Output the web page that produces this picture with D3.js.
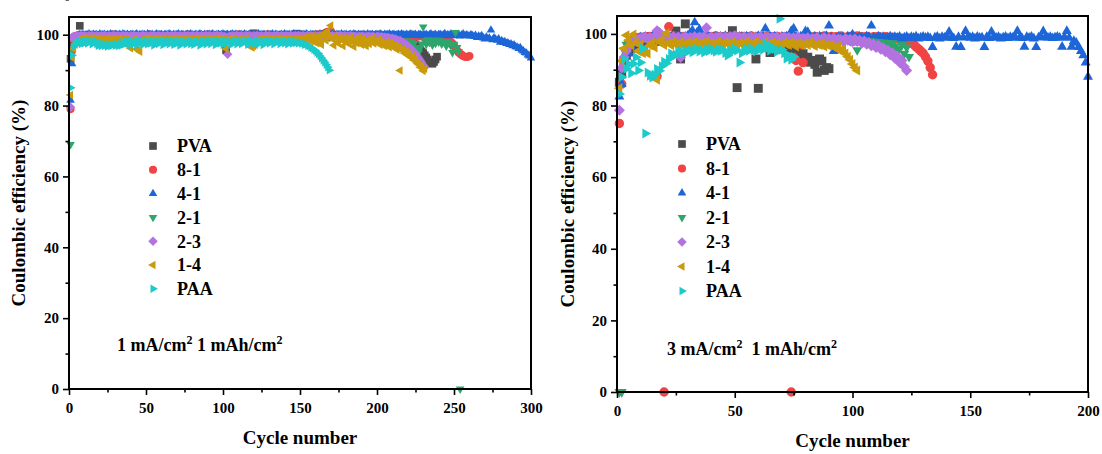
<!DOCTYPE html>
<html>
<head>
<meta charset="utf-8">
<script src="https://cdn.jsdelivr.net/npm/d3@7"></script>
<style>
  body { margin: 0; background: #fff; }
</style>
</head>
<body>
<svg id="chart" width="1102" height="454"></svg>
<script>
// ---- series definitions ----
const seriesNames  = ["PVA", "8-1", "4-1", "2-1", "2-3", "1-4", "PAA"];
const seriesColors = ["#4b4b4b", "#f04444", "#1d66d8", "#2ea56b", "#b273e0", "#c99a0b", "#1ccaca"];
const seriesShapes = ["square", "circle", "up", "down", "diamond", "left", "right"];

// ---- axis ticks ----
const xTicksA = [0, 50, 100, 150, 200, 250, 300];
const xTicksB = [0, 50, 100, 150, 200];
const yTicks  = [0, 20, 40, 60, 80, 100];

// ---- 1 mA/cm2, 1 mAh/cm2: Coulombic efficiency (%) for cycle 1, 2, 3, ... ----
const pvaA = [
  93.2,97.8,99.0,99.3,99.5,99.4,102.5,99.6,99.5,99.7,
  99.6,99.8,99.5,99.7,99.6,99.4,99.7,99.8,99.6,99.5,
  99.7,99.5,99.8,99.6,99.4,99.7,99.6,99.8,99.5,99.6,
  99.8,99.6,99.5,99.7,99.4,99.6,99.8,99.5,99.7,99.6,
  99.5,99.7,99.6,99.8,99.4,99.6,99.7,99.5,99.8,99.6,
  99.7,99.5,99.6,99.8,99.5,99.7,99.4,99.6,99.8,99.7,
  99.5,99.6,99.8,99.7,99.5,99.6,99.4,99.7,99.8,99.6,
  99.6,99.8,99.5,99.7,99.6,99.4,99.7,99.5,99.8,99.6,
  99.7,99.5,99.6,99.8,99.6,99.5,99.7,99.4,99.6,99.8,
  99.5,99.7,99.6,99.8,99.5,99.6,99.7,99.5,99.8,99.6,
  99.4,95.6,99.5,99.7,99.6,99.8,99.5,99.7,99.6,99.4,
  99.7,99.6,99.8,99.5,99.7,99.6,99.8,99.9,100.1,100.4,
  99.7,99.5,99.8,99.6,99.7,99.5,99.8,99.6,99.4,99.7,
  99.6,99.8,99.5,99.7,99.6,99.8,99.5,99.7,99.6,99.8,
  99.5,99.7,99.6,99.8,99.9,100.0,100.2,100.3,99.7,99.6,
  99.8,99.5,99.7,99.6,99.8,99.5,99.7,99.6,99.4,99.7,
  99.6,99.8,99.5,99.7,99.6,99.4,99.8,99.6,99.7,99.5,
  99.6,99.8,99.5,99.7,99.4,99.6,99.8,99.5,99.7,99.6,
  99.5,99.7,99.6,99.8,99.5,99.6,99.4,99.7,99.5,99.6,
  99.7,99.5,99.6,99.4,99.7,99.5,99.6,99.3,99.5,99.4,
  99.6,99.3,99.5,99.4,99.2,99.5,99.3,99.4,99.1,99.3,
  99.2,99.0,99.3,98.9,99.1,98.8,98.9,98.6,98.7,98.4,
  98.2,98.4,97.9,97.6,97.2,96.8,96.3,95.8,95.3,94.8,
  94.2,93.6,93.0,92.4,92.0,91.8,92.3,93.0,93.8
];
const s81A = [
  79.0,95.5,98.6,99.4,99.7,99.8,99.6,99.9,99.7,99.8,
  99.9,99.7,99.8,100.0,99.7,99.9,99.8,99.6,99.9,99.8,
  99.7,99.9,100.0,99.8,99.6,99.9,99.7,99.8,100.1,99.7,
  99.8,99.6,99.9,99.7,100.0,99.8,99.7,99.9,99.6,99.8,
  99.9,99.7,99.8,100.0,99.7,99.9,99.6,99.8,99.9,99.7,
  99.8,100.1,99.7,99.9,99.8,99.6,99.9,99.7,100.0,99.8,
  99.7,99.9,99.8,99.6,100.0,99.7,99.9,99.8,99.7,99.9,
  100.0,99.8,99.7,99.9,99.6,99.8,100.1,99.7,99.9,99.8,
  99.7,99.9,99.8,100.0,99.6,99.8,99.9,99.7,99.8,100.1,
  99.9,99.7,99.8,99.6,99.9,100.0,99.7,99.8,99.9,99.7,
  99.8,99.6,99.9,99.7,100.0,99.8,99.9,99.7,99.8,100.1,
  99.7,99.9,99.8,99.6,99.9,99.7,100.0,99.8,99.9,99.7,
  99.8,100.0,99.7,99.9,99.6,99.8,99.9,99.7,100.1,99.8,
  99.9,99.7,99.8,99.6,100.0,99.8,99.7,99.9,99.8,100.0,
  99.7,99.9,99.8,99.6,99.9,100.1,99.7,99.8,99.9,99.7,
  99.8,100.0,99.7,99.9,99.8,99.6,99.9,99.7,100.0,99.8,
  99.9,100.1,99.8,100.2,100.0,100.4,100.6,100.8,100.5,101.0,
  100.3,99.9,99.7,99.8,100.0,99.7,99.9,99.8,99.6,99.9,
  99.7,100.0,99.8,99.9,99.7,99.8,100.0,99.6,99.9,99.8,
  99.7,99.9,100.0,99.8,99.6,99.9,99.7,99.8,100.0,99.7,
  99.8,99.6,99.9,99.7,99.8,100.0,99.7,99.9,99.6,99.8,
  99.7,99.9,99.8,99.6,99.9,99.7,99.8,99.5,99.7,99.6,
  99.8,99.5,99.7,99.6,99.4,99.7,99.5,99.8,99.6,99.4,
  99.6,99.3,99.5,99.4,99.6,99.2,99.4,99.3,99.5,99.4,
  99.2,99.3,99.0,98.9,98.7,98.5,98.2,97.9,97.5,97.0,
  96.2,95.6,95.0,94.6,94.3,94.0,93.8,93.7,93.8,94.0
];
const s41A = [
  81.5,91.8,97.5,99.0,99.6,99.8,100.0,99.9,100.1,99.8,
  100.0,99.9,100.2,99.8,100.0,100.1,99.9,100.0,99.8,100.2,
  99.9,100.0,100.1,99.8,100.0,99.9,100.2,100.0,99.8,100.1,
  100.0,99.9,100.1,99.8,100.2,100.0,99.9,100.1,99.8,100.0,
  100.1,99.9,100.0,100.2,99.8,100.0,99.9,100.1,100.0,99.8,
  100.2,100.0,99.9,100.1,99.8,100.0,100.2,99.9,100.0,100.1,
  99.8,100.0,100.1,99.9,100.2,100.0,99.8,100.1,99.9,100.0,
  100.2,99.9,100.0,100.1,99.8,100.0,100.1,99.9,100.2,100.0,
  99.8,100.1,100.0,99.9,100.2,100.0,99.8,100.1,99.9,100.0,
  100.1,99.9,100.2,100.0,99.8,100.0,100.1,99.9,100.0,100.2,
  99.9,100.0,100.1,99.8,100.0,100.2,99.9,100.1,100.0,99.8,
  100.1,100.0,99.9,100.2,100.0,99.8,100.1,99.9,100.0,100.1,
  100.0,99.8,100.2,100.0,99.9,100.1,100.0,99.8,100.1,99.9,
  100.0,100.2,99.9,100.1,100.0,99.8,100.0,100.1,99.9,100.2,
  100.0,99.9,100.1,99.8,100.0,100.2,99.9,100.0,100.1,99.8,
  100.0,100.1,99.9,100.2,100.0,99.8,100.1,100.0,99.9,100.1,
  100.0,99.8,100.2,99.9,100.0,100.1,99.8,100.0,100.2,99.9,
  100.1,100.0,99.8,100.1,99.9,100.0,100.2,99.9,100.0,100.1,
  99.8,100.0,100.1,99.9,100.2,100.0,99.8,100.1,100.0,99.9,
  100.1,100.0,99.8,100.2,99.9,100.0,100.1,99.8,100.0,100.1,
  99.9,100.2,100.0,99.8,100.1,99.9,100.0,100.2,99.9,100.0,
  100.1,99.8,100.0,100.1,99.9,100.2,100.0,99.8,100.1,99.9,
  100.0,100.2,99.9,100.0,100.1,99.7,100.0,100.1,99.8,100.0,
  99.9,100.1,99.7,100.0,100.2,99.8,99.9,100.1,99.7,100.0,
  100.1,99.8,99.9,100.3,99.7,100.0,99.8,100.2,99.9,99.7,
  100.0,99.8,100.1,99.6,99.9,100.2,99.7,99.9,99.8,99.6,
  100.0,99.7,99.5,99.8,99.2,99.6,99.4,99.7,99.1,98.8,
  99.3,98.9,99.0,101.3,98.6,99.1,98.7,98.4,98.8,97.9,
  98.3,97.8,98.0,97.5,97.7,97.2,97.4,96.9,97.1,96.6,
  96.5,96.1,96.3,95.7,95.4,95.0,94.8,94.3,94.0,93.4
];
const s21A = [
  69.0,96.0,98.6,99.1,99.3,99.4,99.2,99.5,99.3,99.4,
  99.5,99.3,99.4,99.2,99.5,99.4,99.3,99.6,99.4,99.3,
  99.4,99.5,99.2,99.4,99.3,99.5,99.4,99.6,99.3,99.4,
  99.5,99.3,99.4,99.2,99.5,99.4,99.6,99.3,99.4,99.5,
  99.3,99.4,99.6,99.2,99.4,99.5,99.3,99.4,99.6,99.4,
  99.3,99.5,99.4,99.2,99.6,99.4,99.3,99.5,99.4,99.3,
  99.6,99.4,99.5,99.3,99.2,99.4,99.5,99.6,99.3,99.4,
  99.5,99.3,99.4,99.6,99.2,99.4,99.5,99.3,99.4,99.6,
  99.4,99.3,99.5,99.2,99.4,99.6,99.3,99.4,99.5,99.3,
  99.4,99.6,99.2,99.5,99.4,99.3,99.5,99.4,99.6,99.3,
  99.4,99.5,99.3,99.2,99.4,99.6,99.5,99.3,99.4,99.5,
  99.3,99.4,99.6,99.4,99.2,99.5,99.3,99.4,99.6,99.4,
  99.5,99.3,99.4,99.2,99.5,99.6,99.4,99.3,99.5,99.4,
  99.2,99.4,99.6,99.3,99.5,99.4,99.3,99.6,99.4,99.5,
  99.3,99.4,99.2,99.5,99.6,99.4,99.3,99.5,99.4,99.2,
  99.4,99.6,99.3,99.5,99.4,99.2,99.5,99.3,99.6,99.4,
  99.3,99.5,99.4,99.2,99.6,99.3,99.4,99.5,99.3,99.4,
  99.5,99.2,99.4,99.3,99.6,99.4,99.1,99.3,99.5,99.0,
  99.2,99.4,98.9,99.3,99.1,98.8,99.2,99.0,98.7,99.1,
  98.9,98.6,99.0,98.7,98.4,98.9,98.5,98.8,98.2,98.6,
  98.3,98.7,98.1,98.5,98.0,98.4,97.8,98.3,97.9,98.2,
  97.6,98.1,97.7,98.4,97.5,98.0,97.4,97.9,98.3,97.6,
  97.2,97.8,96.8,97.5,96.4,95.6,95.0,96.2,97.4,102.2,
  98.2,97.3,98.6,97.8,98.4,97.1,98.0,97.6,98.5,97.9,
  98.3,97.4,98.1,97.7,96.8,98.0,97.5,96.9,95.0,97.3,
  100.6,96.4,95.3,0.0
];
const s23A = [
  79.5,99.2,99.6,99.4,99.7,99.5,99.6,99.8,99.5,99.7,
  99.6,99.4,99.7,99.5,99.8,99.6,99.5,99.7,99.4,99.6,
  99.7,99.5,99.8,99.6,99.4,99.7,99.5,99.6,99.8,99.5,
  99.6,99.7,99.4,99.6,99.8,99.5,99.7,99.6,99.4,99.7,
  99.5,99.8,99.6,99.5,99.7,99.4,99.6,99.8,99.5,99.7,
  99.6,99.4,99.7,99.5,99.8,99.6,99.5,99.7,99.6,99.4,
  99.7,99.5,99.6,99.8,99.4,99.6,99.7,99.5,99.8,99.6,
  99.5,99.7,99.4,99.6,99.8,99.5,99.7,99.6,99.4,99.7,
  99.6,99.5,99.8,99.6,99.4,99.7,99.5,99.6,99.8,99.5,
  99.7,99.6,99.4,99.7,99.5,99.8,99.6,99.5,99.7,99.4,
  99.5,99.3,94.5,99.6,99.4,99.7,99.5,99.6,99.8,99.5,
  99.6,99.7,99.4,99.6,99.8,99.5,99.7,99.6,99.4,99.7,
  99.5,99.8,99.6,99.5,99.7,99.4,99.6,99.8,99.5,99.7,
  99.6,99.4,99.7,99.5,99.8,99.6,99.5,99.7,99.6,99.4,
  99.7,99.5,99.6,99.8,99.4,99.6,99.7,99.5,99.8,99.6,
  99.5,99.7,99.4,99.6,99.8,99.5,99.7,99.6,99.4,99.7,
  99.6,99.5,99.8,99.6,99.4,99.7,99.5,99.6,99.8,99.5,
  99.7,99.6,99.4,99.7,99.5,99.8,99.6,99.5,99.7,99.4,
  99.6,99.5,99.7,99.4,99.6,99.5,99.3,99.6,99.4,99.5,
  99.6,99.3,99.5,99.4,99.6,99.3,99.5,99.4,99.2,99.5,
  99.4,99.3,99.4,99.2,99.3,99.1,99.2,99.0,98.9,99.0,
  98.7,98.8,98.5,98.3,98.4,98.0,97.8,97.5,97.2,96.9,
  96.5,96.0,95.6,95.1,94.6,94.0,93.4,92.8,92.1,91.4,
  90.8
];
const s14A = [
  83.0,93.5,96.0,97.2,97.8,98.3,98.6,98.9,98.7,99.0,
  98.8,98.5,98.9,98.7,99.1,98.6,98.8,98.4,98.9,98.7,
  98.5,98.8,98.6,98.3,98.9,98.4,98.7,98.5,98.8,98.6,
  98.4,98.7,98.9,98.5,98.6,98.8,98.3,98.7,96.8,96.2,
  98.6,98.4,98.8,96.0,95.6,95.2,98.5,98.7,98.4,98.9,
  98.6,98.8,98.5,98.7,98.3,98.9,98.6,98.4,98.8,98.5,
  98.7,98.9,98.4,98.6,98.8,98.5,98.7,98.3,98.9,98.6,
  98.4,98.8,98.6,98.7,98.5,98.9,98.3,98.6,98.8,98.4,
  98.7,98.5,98.9,98.6,98.4,98.8,98.7,98.5,98.3,98.9,
  98.6,98.8,98.4,98.7,98.5,98.9,98.6,98.3,98.8,98.5,
  98.7,96.0,98.4,98.8,98.6,98.9,98.5,98.7,98.3,98.6,
  98.8,98.4,98.7,98.5,98.9,97.6,97.0,96.6,96.4,96.8,
  97.2,98.5,98.7,98.3,98.8,98.6,98.4,98.9,98.5,98.7,
  98.6,98.3,98.8,98.5,98.7,98.9,98.4,98.6,98.8,98.5,
  98.7,98.4,98.9,98.6,98.3,98.8,98.5,98.7,98.9,98.4,
  98.6,99.0,98.4,99.3,98.7,99.5,98.2,99.6,98.0,99.2,
  97.6,99.4,98.3,97.2,99.8,100.5,98.4,101.0,99.5,102.6,
  98.8,97.0,99.6,98.2,97.5,99.2,98.6,96.8,99.0,97.9,
  98.5,97.4,99.3,98.0,96.6,98.8,97.6,99.1,98.3,97.2,
  98.9,97.8,96.8,98.6,97.4,98.2,99.0,97.5,98.4,97.8,
  98.6,97.2,98.0,97.6,96.8,97.9,97.3,96.5,97.7,96.9,
  96.4,97.2,95.8,96.6,89.9,95.6,96.0,94.8,95.4,94.2,
  94.6,93.6,94.0,92.8,93.2,92.0,91.6,90.8,91.2,89.8,
  90.4
];
const paaA = [
  85.0,94.2,96.6,97.3,97.6,97.9,98.1,97.4,98.2,97.6,
  98.3,97.5,98.0,98.2,97.3,97.9,98.3,97.4,96.9,97.2,
  96.8,97.5,96.9,97.1,96.7,97.4,96.8,97.0,97.3,96.9,
  97.2,96.8,97.5,97.0,97.9,97.3,98.2,97.5,98.3,97.1,
  98.1,97.4,98.2,97.0,98.3,97.6,98.1,97.2,97.8,98.3,
  97.3,98.1,97.5,98.2,97.0,97.8,98.3,97.4,97.9,98.2,
  97.1,98.2,97.6,98.1,97.3,97.9,98.3,97.2,98.1,97.5,
  98.2,97.0,98.3,97.6,98.1,97.3,97.8,98.2,97.4,98.1,
  97.2,98.2,97.7,98.1,97.0,98.3,97.5,98.2,97.3,98.1,
  98.2,97.4,98.0,98.3,97.1,97.9,98.2,97.5,98.1,97.2,
  98.3,97.6,97.9,98.2,97.1,97.8,98.0,98.3,97.3,97.9,
  98.2,97.4,97.8,98.1,98.3,97.2,98.2,97.6,98.1,97.3,
  98.0,98.3,97.4,97.9,98.2,97.1,97.8,98.1,98.3,97.5,
  97.9,98.2,97.3,97.8,98.0,98.3,97.4,97.9,98.2,97.6,
  98.1,97.3,98.0,98.2,97.5,98.1,97.7,97.9,97.6,97.8,
  97.5,97.6,97.2,97.3,96.9,96.8,96.4,96.2,95.8,95.5,
  95.0,94.6,94.0,93.4,92.8,92.2,91.5,90.8,90.0
];

// ---- 3 mA/cm2, 1 mAh/cm2: Coulombic efficiency (%) for cycle 1, 2, 3, ... ----
const pvaB = [
  86.5,88.8,92.0,94.0,95.2,96.0,96.6,97.0,97.4,98.6,
  97.5,97.8,98.0,97.6,98.2,97.9,98.3,98.0,98.4,98.1,
  98.5,98.2,98.6,98.3,100.8,98.4,93.0,98.5,102.8,98.2,
  98.6,98.3,98.7,98.4,98.6,98.2,98.5,98.3,98.6,98.4,
  98.2,98.5,98.3,98.6,98.4,98.1,98.5,98.3,100.9,98.4,
  85.0,98.2,98.5,98.3,98.0,98.4,98.1,98.3,93.0,84.8,
  97.8,97.5,97.2,96.6,94.8,96.2,96.8,96.4,96.0,95.8,
  96.2,95.6,95.2,95.5,94.5,95.0,94.2,93.8,94.5,92.8,
  93.5,92.1,92.6,91.5,89.3,93.0,92.4,89.8,90.6,90.3
];
const s81B = [
  75.0,86.0,91.2,94.5,97.6,97.3,98.2,98.6,98.9,99.1,
  98.8,99.2,99.0,99.3,98.9,99.1,88.2,99.4,99.0,0.0,
  99.2,102.0,99.1,99.4,98.9,99.2,99.0,99.3,98.8,99.1,
  99.3,99.0,99.2,98.9,99.4,99.1,99.0,99.3,98.8,99.2,
  99.1,99.4,98.9,99.2,99.0,99.3,99.1,98.8,99.2,99.4,
  99.0,99.1,99.3,98.9,99.2,99.0,99.4,99.1,98.8,99.2,
  99.3,99.0,99.1,99.4,98.9,99.2,99.0,99.3,99.1,98.8,
  99.2,98.7,98.2,0.0,93.4,92.6,89.6,97.0,92.0,98.4,
  99.0,99.2,98.8,99.3,99.1,98.9,99.2,99.4,99.0,99.1,
  99.3,98.9,99.2,99.0,99.4,99.1,98.8,99.2,99.3,99.0,
  99.1,99.4,98.9,99.2,99.0,99.3,99.1,98.8,99.2,99.0,
  99.3,99.1,98.9,99.2,99.0,98.8,99.1,98.7,98.9,98.5,
  98.6,98.2,98.4,97.9,97.5,97.0,96.4,95.8,95.2,94.6,
  93.6,92.4,90.6,88.6
];
const s41B = [
  82.5,86.0,90.5,92.0,94.5,96.5,97.5,98.2,98.6,99.0,
  98.8,99.2,99.0,98.7,99.3,99.1,98.9,99.2,99.0,98.8,
  99.3,99.0,99.2,98.9,99.1,99.4,99.0,98.8,99.2,99.5,
  100.2,101.0,103.2,100.4,101.3,99.6,99.2,99.0,99.3,98.9,
  99.1,99.3,98.8,99.2,99.0,99.4,98.9,99.1,99.3,99.0,
  98.8,99.2,99.1,98.9,99.3,99.0,99.2,98.8,99.1,99.4,
  99.0,99.3,101.5,99.1,99.2,98.9,99.3,99.0,98.8,99.2,
  99.0,99.3,99.1,100.8,101.5,99.2,98.9,99.3,99.0,100.7,
  100.5,99.1,98.8,99.2,99.0,99.3,98.9,99.1,99.4,102.3,
  99.0,95.2,98.6,99.2,98.9,99.1,98.7,99.3,99.0,99.8,
  99.1,98.8,99.2,99.0,98.6,99.3,99.1,102.3,99.0,98.8,
  99.2,98.9,99.1,98.7,99.0,99.3,98.8,99.1,98.9,99.2,
  98.7,99.0,99.2,98.8,99.1,98.9,99.3,98.7,99.0,99.2,
  98.9,99.1,98.8,96.3,99.0,99.2,98.7,99.1,98.9,99.3,
  100.6,99.0,98.8,96.4,99.1,96.3,99.0,100.8,99.2,98.9,
  99.1,98.7,99.2,98.9,99.0,96.3,99.1,98.8,100.6,99.2,
  98.9,99.1,98.7,99.0,99.2,98.8,99.1,98.9,99.2,100.8,
  99.0,98.8,96.4,99.1,98.9,99.2,98.7,96.3,99.0,99.1,
  100.7,99.2,98.9,99.1,98.8,99.0,99.2,98.9,96.4,99.1,
  100.8,98.9,96.4,98.0,97.5,96.3,95.2,94.0,92.0,88.0
];
const s21B = [
  0.0,0.0,95.5,97.0,97.6,98.2,98.6,98.4,98.9,98.7,
  99.0,98.9,98.6,99.1,98.8,98.5,99.0,98.7,98.9,98.6,
  98.8,99.1,98.5,98.9,98.7,99.0,98.6,98.8,99.1,98.5,
  98.9,98.7,99.0,98.6,98.8,98.4,98.9,98.7,99.0,98.5,
  98.8,98.6,99.0,98.7,98.9,98.5,98.8,99.1,98.6,98.9,
  98.7,98.4,98.9,98.6,98.8,99.0,98.5,98.7,98.9,98.6,
  98.8,98.5,98.9,98.7,98.4,98.8,98.6,98.9,98.5,98.7,
  98.6,98.9,98.4,98.7,98.5,98.8,98.3,98.6,98.9,98.4,
  98.7,98.5,98.2,98.6,98.8,98.4,98.1,98.6,98.3,98.7,
  98.4,98.0,98.5,98.2,98.6,97.9,98.3,98.5,98.0,98.4,
  98.1,95.5,98.3,97.8,98.2,97.6,98.0,97.5,97.9,97.3,
  97.8,97.2,97.6,97.0,97.5,96.8,97.4,96.6,95.8,95.9,
  97.0,94.5,96.2,93.6
];
const s23B = [
  78.7,90.5,93.5,95.2,96.4,97.3,97.8,98.2,98.5,98.7,
  98.9,99.1,98.6,99.0,98.8,99.3,100.9,100.4,98.9,99.2,
  98.7,99.0,98.8,99.2,98.6,99.1,93.4,98.9,99.2,98.7,
  99.0,98.8,99.3,98.6,99.1,98.9,99.2,101.7,98.8,99.1,
  98.7,99.0,98.9,99.2,98.6,99.1,98.8,99.3,98.9,99.5,
  98.7,99.0,98.8,99.2,98.6,98.9,99.1,98.7,99.0,98.8,
  99.2,98.6,98.9,99.1,98.7,99.0,98.8,99.2,98.6,98.9,
  99.1,98.7,99.0,98.5,98.9,98.6,99.1,98.4,98.8,98.5,
  98.9,98.3,98.7,98.5,99.0,98.2,98.6,98.9,98.4,98.7,
  98.3,98.8,98.1,98.6,98.4,97.9,98.7,98.2,98.5,97.8,
  98.6,97.9,98.2,97.4,98.0,97.1,97.6,96.7,97.2,96.2,
  96.8,95.7,96.1,95.0,95.4,94.2,94.6,93.2,93.8,92.0,
  92.6,90.8,89.8
];
const s14B = [
  84.8,92.5,95.9,99.6,98.2,96.8,99.8,97.5,95.2,97.0,
  94.6,95.8,94.5,96.8,97.5,96.2,87.2,97.8,98.4,96.9,
  100.2,97.4,96.8,97.9,97.2,96.6,97.7,97.0,96.5,97.6,
  97.1,96.8,97.9,97.3,96.6,97.5,97.0,97.8,96.9,97.4,
  97.2,96.7,97.8,97.1,96.5,97.6,97.3,96.9,97.7,97.0,
  96.6,97.5,97.2,96.8,97.9,97.1,96.7,97.4,97.8,97.0,
  96.5,97.3,97.7,96.9,97.2,97.6,96.8,97.4,97.0,96.6,
  97.5,97.1,96.9,97.7,97.2,96.5,97.4,97.0,96.8,97.3,
  96.9,97.5,97.0,96.6,97.2,96.9,97.4,96.5,97.0,96.7,
  96.9,96.4,96.0,96.6,95.2,95.8,94.5,93.6,92.8,91.6,
  90.6,89.8
];
const paaB = [
  83.2,88.0,93.0,90.3,91.5,89.0,91.7,93.5,89.8,92.0,
  95.9,72.2,89.2,88.3,87.8,88.6,90.2,89.7,91.0,92.2,
  91.8,93.0,94.5,93.8,94.2,94.8,95.2,94.6,95.4,95.0,
  95.6,94.9,95.3,95.8,95.1,95.5,94.8,95.7,95.2,95.9,
  95.4,95.0,95.8,95.3,95.6,94.7,94.0,95.5,95.1,95.9,
  95.4,92.0,94.6,95.2,95.8,95.3,96.0,95.5,95.1,95.7,
  96.2,95.6,97.3,96.0,95.4,96.3,95.8,95.0,104.2,95.6,
  94.6,93.1,94.0,92.8,93.6
];

// ---- layout of the two panels ----
const FONT = "'Liberation Serif', Tinos, 'Times New Roman', 'DejaVu Serif', 'Noto Serif', serif";
const panels = [
  {
    series: [pvaA, s81A, s41A, s21A, s23A, s14A, paaA],
    xMax: 300, xTicks: xTicksA,
    left: 69, right: 531, top: 17, bottom: 389,
    mark: 9, legendX: 153, legendY: 146, legendStep: 23.8, legendTextX: 177,
    yTitleX: 18, xTitleY: 444, note: ["1 mA/cm", "2", " 1 mAh/cm", "2"], noteX: 117, noteY: 351
  },
  {
    series: [pvaB, s81B, s41B, s21B, s23B, s14B, paaB],
    xMax: 200, xTicks: xTicksB,
    left: 617, right: 1088, top: 16, bottom: 392,
    mark: 10.5, legendX: 682, legendY: 144, legendStep: 24.5, legendTextX: 706,
    yTitleX: 567, xTitleY: 447, note: ["3 mA/cm", "2", "  1 mAh/cm", "2"], noteX: 667, noteY: 355
  }
];

// marker outline for a nominal marker width s, centred on 0,0
function markerPath(shape, s) {
  const h = s / 2;
  const r = h * 1.1;
  const tri = (a) => {
    const pts = [0, 120, 240].map(d => {
      const t = (d + a) * Math.PI / 180;
      return [r * Math.sin(t), -r * Math.cos(t)];
    });
    return "M" + pts.map(p => p[0].toFixed(2) + "," + p[1].toFixed(2)).join("L") + "Z";
  };
  switch (shape) {
    case "square": { const q = h * 0.85; return `M${-q},${-q}H${q}V${q}H${-q}Z`; }
    case "circle": return d3.symbol(d3.symbolCircle, Math.PI * Math.pow(h * 0.9, 2))();
    case "up": return tri(0);
    case "down": return tri(180);
    case "left": return tri(270);
    case "right": return tri(90);
    case "diamond": { const q = h * 1.05; return `M0,${-q}L${q},0L0,${q}L${-q},0Z`; }
  }
}

const svg = d3.select("#chart");

function label(sel, size) {
  return sel.attr("font-family", FONT).attr("font-weight", "bold")
    .attr("font-size", size).attr("fill", "#000");
}

panels.forEach(p => {
  const x = d3.scaleLinear().domain([0, p.xMax]).range([p.left, p.right]);
  const y = d3.scaleLinear().domain([0, 105]).range([p.bottom, p.top]);
  const g = svg.append("g");

  // scatter points, drawn series by series so later series sit on top
  p.series.forEach((vals, si) => {
    const path = markerPath(seriesShapes[si], p.mark);
    g.append("g")
      .selectAll("path")
      .data(vals.map((v, i) => ({ c: i + 1, v })))
      .join("path")
      .attr("d", path)
      .attr("transform", d => `translate(${x(d.c)},${y(d.v)})`)
      .attr("fill", seriesColors[si]);
  });

  // frame
  g.append("rect")
    .attr("x", p.left).attr("y", p.top)
    .attr("width", p.right - p.left).attr("height", p.bottom - p.top)
    .attr("fill", "none").attr("stroke", "#000").attr("stroke-width", 2);

  // bottom axis: major ticks with labels, minor ticks between
  const gx = g.append("g").attr("transform", `translate(0,${p.bottom})`)
    .call(d3.axisBottom(x).tickValues(p.xTicks).tickSize(6).tickSizeOuter(0).tickPadding(7));
  const xMinor = p.xTicks.slice(1).map((t, i) => (t + p.xTicks[i]) / 2);
  g.append("g").attr("transform", `translate(0,${p.bottom})`)
    .call(d3.axisBottom(x).tickValues(xMinor).tickSize(3.5).tickSizeOuter(0).tickFormat(""));

  // left axis
  const gy = g.append("g").attr("transform", `translate(${p.left},0)`)
    .call(d3.axisLeft(y).tickValues(yTicks).tickSize(6).tickSizeOuter(0).tickPadding(4));
  const yMinor = yTicks.map(t => t + 10);
  g.append("g").attr("transform", `translate(${p.left},0)`)
    .call(d3.axisLeft(y).tickValues(yMinor).tickSize(3.5).tickSizeOuter(0).tickFormat(""));

  g.selectAll(".domain").remove();
  g.selectAll(".tick line").attr("stroke", "#000").attr("stroke-width", 1.6);
  // axis groups carry their own font settings; replace them with the serif face
  label(gx, 15); label(gy, 15);
  label(g.selectAll(".tick text"), 15);

  // axis titles
  label(g.append("text"), 19)
    .attr("x", (p.left + p.right) / 2).attr("y", p.xTitleY)
    .attr("text-anchor", "middle")
    .text("Cycle number");
  label(g.append("text"), 19)
    .attr("transform", `translate(${p.yTitleX},${(p.top + p.bottom) / 2}) rotate(-90)`)
    .attr("text-anchor", "middle").attr("dy", "0.35em")
    .text("Coulombic efficiency (%)");

  // legend
  seriesNames.forEach((name, si) => {
    const ly = p.legendY + si * p.legendStep;
    g.append("path")
      .attr("d", markerPath(seriesShapes[si], 9))
      .attr("transform", `translate(${p.legendX},${ly})`)
      .attr("fill", seriesColors[si]);
    label(g.append("text"), 18)
      .attr("x", p.legendTextX).attr("y", ly).attr("dy", "0.35em")
      .text(name);
  });

  // test-condition note with superscripts
  const note = label(g.append("text"), 18).attr("x", p.noteX).attr("y", p.noteY)
    .attr("xml:space", "preserve");
  p.note.forEach((part, k) => {
    if (k % 2 === 1) {
      note.append("tspan").attr("dy", -7).attr("font-size", 12).text(part);
    } else {
      note.append("tspan").attr("dy", k === 0 ? 0 : 7).text(part);
    }
  });
});
</script>
</body>
</html>
